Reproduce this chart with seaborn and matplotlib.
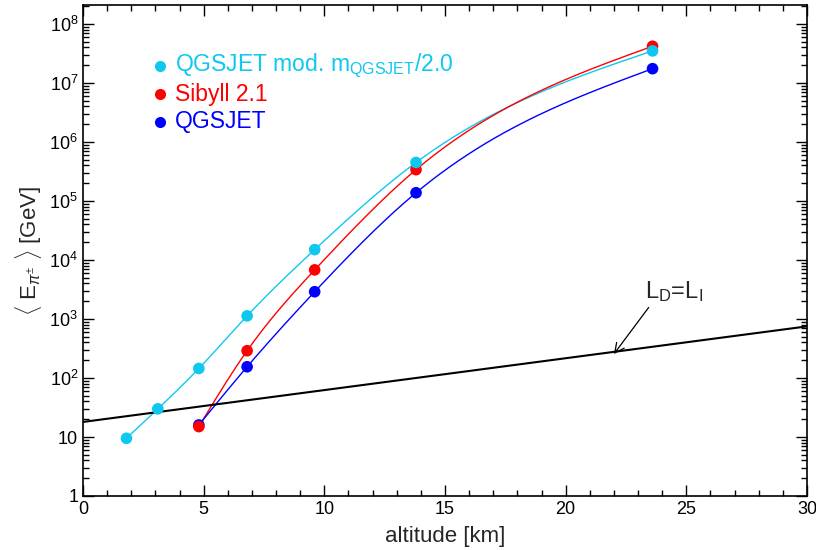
import numpy as np
import pandas as pd
import matplotlib
matplotlib.use("Agg")
import matplotlib.pyplot as plt
import seaborn as sns
from matplotlib.ticker import FixedLocator, FuncFormatter, MultipleLocator, LogLocator, NullFormatter

# ---- data ----
alt_cyan = [1.8, 3.1, 4.8, 6.8, 9.6, 13.8, 23.6]
e_cyan = [9.5, 30, 145, 1130, 15000, 450000, 3.5e7]
alt_red = [4.8, 6.8, 9.6, 13.8, 23.6]
e_red = [15, 290, 6800, 340000, 4.2e7]
alt_blue = [4.8, 6.8, 9.6, 13.8, 23.6]
e_blue = [16, 155, 2900, 138000, 1.75e7]
series_names = ["QGSJET mod. m$_{\\mathregular{QGSJET}}$/2.0", "Sibyll 2.1", "QGSJET"]
colors = ["#0FC8F0", "#FF0000", "#0000FF"]
ld_alt = [0, 30]
ld_e = [18, 750]

sns.set_style("ticks")
plt.rcParams['font.family'] = ['Liberation Sans', 'DejaVu Sans']
plt.rcParams['mathtext.fontset'] = 'custom'
plt.rcParams['mathtext.rm'] = 'Liberation Sans'
plt.rcParams['mathtext.it'] = 'Liberation Sans:italic'
plt.rcParams['mathtext.sf'] = 'Liberation Sans'


def natural_spline(x, y, n=200):
    x = np.asarray(x, float); y = np.asarray(y, float)
    k = len(x)
    h = np.diff(x)
    A = np.zeros((k, k)); b = np.zeros(k)
    A[0, 0] = 1; A[-1, -1] = 1
    for i in range(1, k - 1):
        A[i, i - 1] = h[i - 1]; A[i, i] = 2 * (h[i - 1] + h[i]); A[i, i + 1] = h[i]
        b[i] = 3 * ((y[i + 1] - y[i]) / h[i] - (y[i] - y[i - 1]) / h[i - 1])
    c = np.linalg.solve(A, b)
    xs = np.linspace(x[0], x[-1], n)
    ys = np.empty_like(xs)
    for j, xv in enumerate(xs):
        i = min(np.searchsorted(x, xv, side='right') - 1, k - 2)
        dx = xv - x[i]
        bb = (y[i + 1] - y[i]) / h[i] - h[i] * (2 * c[i] + c[i + 1]) / 3
        d = (c[i + 1] - c[i]) / (3 * h[i])
        ys[j] = y[i] + bb * dx + c[i] * dx ** 2 + d * dx ** 3
    return xs, ys


fig = plt.figure(figsize=(8.16, 5.5), dpi=100)
ax = fig.add_axes([83 / 816, 54 / 550, 724 / 816, 491 / 550])

pts = pd.DataFrame({
    "alt": alt_cyan + alt_red + alt_blue,
    "E": e_cyan + e_red + e_blue,
    "model": [series_names[0]] * len(alt_cyan) + [series_names[1]] * len(alt_red) + [series_names[2]] * len(alt_blue),
})

curves = []
for name, xa, ya in [(series_names[0], alt_cyan, e_cyan), (series_names[1], alt_red, e_red), (series_names[2], alt_blue, e_blue)]:
    xs, ls = natural_spline(xa, np.log10(ya))
    curves.append(pd.DataFrame({"alt": xs, "E": 10 ** ls, "model": name}))
curves = pd.concat(curves)
pal = dict(zip(series_names, colors))

sns.lineplot(data=curves, x="alt", y="E", hue="model", palette=pal, lw=1.0, ax=ax, legend=False, sort=False)
for name in [series_names[2], series_names[1], series_names[0]]:
    sub = pts[pts.model == name]
    sns.scatterplot(data=sub, x="alt", y="E", color=pal[name], s=70, edgecolor='none', ax=ax, legend=False, zorder=3)

sns.lineplot(x=ld_alt, y=ld_e, color='black', lw=1.5, ax=ax)

ax.set_yscale('log')
ax.set_xlim(0, 30)
ax.set_ylim(1, 2.1e8)

ax.xaxis.set_major_locator(MultipleLocator(5))
ax.xaxis.set_minor_locator(MultipleLocator(1))
ax.yaxis.set_major_locator(FixedLocator([10.0 ** k for k in range(0, 9)]))
ax.yaxis.set_minor_locator(LogLocator(base=10, subs=np.arange(2, 10), numticks=20))
ax.yaxis.set_minor_formatter(NullFormatter())


def yfmt(v, pos):
    k = int(round(np.log10(v)))
    if k == 0:
        return "1"
    if k == 1:
        return "10"
    return "$10^{%d}$" % k


ax.yaxis.set_major_formatter(FuncFormatter(yfmt))
ax.tick_params(which='both', direction='in', top=True, right=True, labelsize=13, colors='black', width=1)
ax.tick_params(which='major', length=8)
ax.tick_params(which='minor', length=4)
for s in ax.spines.values():
    s.set_linewidth(1.2)
    s.set_color('black')

ax.set_xlabel("altitude [km]", fontsize=16, labelpad=6)
ax.set_ylabel(r"$\langle$ E$_{\pi^{\pm}}$ $\rangle$ [GeV]", fontsize=16, labelpad=4)

# legend as text entries
leg_y = [1.95e7, 6.4e6, 2.2e6]
for name, col, yy in zip(series_names, colors, leg_y):
    ax.plot([3.2], [yy], 'o', color=col, ms=8, mec='none')
    ax.text(3.8, yy, name, color=col, fontsize=16.5, va='center', ha='left')

ax.annotate("L$_{\\mathregular{D}}$=L$_{\\mathregular{I}}$", xy=(22.0, 255), xytext=(23.3, 2900),
            fontsize=17, ha='left', va='center',
            arrowprops=dict(arrowstyle='->', color='black', lw=0.9, shrinkA=0, shrinkB=0,
                            relpos=(0.1, 0.0)))

fig.savefig("out.png", dpi=100)
